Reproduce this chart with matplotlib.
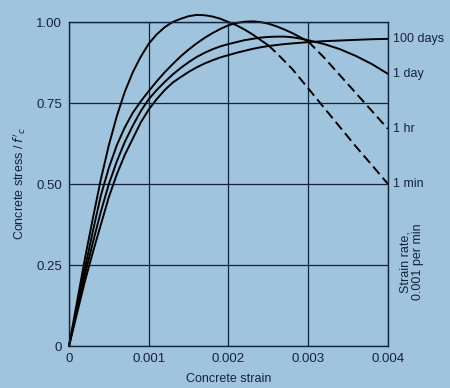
import matplotlib.pyplot as plt

plt.rcParams['font.family'] = ['Liberation Sans', 'DejaVu Sans']

bg = '#a0c4dd'
ink = '#16223a'

# strain values
strain = [0, 0.0001, 0.0002, 0.0003, 0.0004, 0.0005, 0.0006, 0.0007, 0.0008, 0.0009,
          0.001, 0.0011, 0.0012, 0.0013, 0.0014, 0.0015, 0.0016, 0.0017, 0.0018,
          0.0019, 0.002, 0.0021, 0.0022, 0.0023, 0.0024, 0.0025, 0.0026, 0.0027,
          0.0028, 0.0029, 0.003, 0.0032, 0.0034, 0.0036, 0.0038, 0.004]

min1 = [0, 0.135, 0.27, 0.395, 0.515, 0.62, 0.71, 0.785, 0.845, 0.893,
        0.933, 0.962, 0.984, 1.0, 1.01, 1.018, 1.022, 1.021, 1.017,
        1.01, 1.0, 0.99, 0.977, 0.962, 0.945, 0.928, 0.905, 0.88,
        0.855, 0.825, 0.795, 0.735, 0.675, 0.615, 0.558, 0.50]
hr1 = [0, 0.12, 0.24, 0.355, 0.465, 0.55, 0.62, 0.675, 0.72, 0.755,
       0.787, 0.817, 0.845, 0.87, 0.894, 0.915, 0.934, 0.951, 0.966,
       0.979, 0.99, 0.997, 1.001, 1.002, 1.0, 0.995, 0.987, 0.977,
       0.966, 0.953, 0.94, 0.89, 0.835, 0.78, 0.725, 0.67]
day1 = [0, 0.11, 0.22, 0.32, 0.415, 0.50, 0.57, 0.63, 0.68, 0.725,
        0.762, 0.79, 0.815, 0.838, 0.858, 0.876, 0.892, 0.905, 0.916,
        0.925, 0.932, 0.938, 0.944, 0.948, 0.952, 0.954, 0.955, 0.955,
        0.953, 0.949, 0.944, 0.932, 0.916, 0.895, 0.87, 0.84]
day100 = [0, 0.10, 0.20, 0.29, 0.375, 0.46, 0.53, 0.59, 0.64, 0.69,
          0.73, 0.762, 0.79, 0.813, 0.83, 0.846, 0.86, 0.872, 0.882,
          0.891, 0.898, 0.905, 0.911, 0.917, 0.922, 0.926, 0.929, 0.932,
          0.934, 0.936, 0.938, 0.941, 0.943, 0.945, 0.947, 0.948]

labels = ['100 days', '1 day', '1 hr', '1 min']
ends = [day100[-1], day1[-1], hr1[-1], min1[-1]]

fig = plt.figure(figsize=(4.5, 3.88), dpi=100, facecolor=bg)
ax = fig.add_axes([0.1533, 0.1082, 0.7089, 0.835])
ax.set_facecolor(bg)

kw = dict(color='black', lw=1.4, clip_on=False, solid_capstyle='round')
ax.plot(strain, day100, **kw)
ax.plot(strain, day1, **kw)
# 1 hr: solid up to 0.003, dashed after
ax.plot(strain[:31], hr1[:31], **kw)
ax.plot(strain[30:], hr1[30:], dashes=(5, 2.5), **kw)
# 1 min: solid up to 0.0025, dashed after
ax.plot(strain[:26], min1[:26], **kw)
ax.plot(strain[25:], min1[25:], dashes=(5, 2.5), **kw)

ax.set_xlim(0, 0.004)
ax.set_ylim(0, 1.0)
ax.set_xticks([0, 0.001, 0.002, 0.003, 0.004])
ax.set_xticklabels(['0', '0.001', '0.002', '0.003', '0.004'])
ax.set_yticks([0, 0.25, 0.5, 0.75, 1.0])
ax.set_yticklabels(['0', '0.25', '0.50', '0.75', '1.00'])
ax.tick_params(length=0, labelsize=9.5, colors=ink, pad=5)
ax.grid(True, color=ink, lw=0.9)
ax.set_axisbelow(True)
for s in ax.spines.values():
    s.set_color(ink)
    s.set_linewidth(1.0)

ax.set_xlabel('Concrete strain', fontsize=9, color=ink, labelpad=6)
ax.set_ylabel("Concrete stress / $f'_c$", fontsize=9, color=ink, labelpad=6)

for lab, yv in zip(labels, ends):
    ax.text(1.015, yv, lab, transform=ax.get_yaxis_transform(), fontsize=9,
            color=ink, va='center', ha='left')

ax.text(1.075, 0.26, 'Strain rate,\n0.001 per min', transform=ax.transAxes,
        rotation=90, fontsize=9, color=ink, va='center', ha='center',
        linespacing=1.1)

fig.savefig('out.png', dpi=100, facecolor=bg)
